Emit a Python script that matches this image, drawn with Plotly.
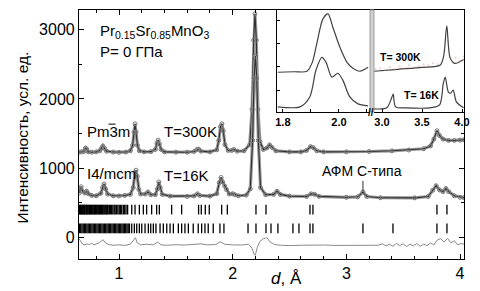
import plotly.graph_objects as go

# ---------------- main profiles (d, intensity) ----------------
PROFILE_300K = [
    (0.648, 1230), (0.67, 1235), (0.69, 1240), (0.705, 1290), (0.715, 1275), (0.73, 1235),
    (0.76, 1230), (0.80, 1235), (0.83, 1250), (0.845, 1285), (0.858, 1320), (0.872, 1285),
    (0.89, 1245), (0.95, 1232), (1.00, 1228), (1.06, 1232), (1.10, 1250), (1.12, 1330),
    (1.132, 1520), (1.141, 1640), (1.150, 1520), (1.162, 1330), (1.18, 1250), (1.22, 1235),
    (1.28, 1238), (1.32, 1270), (1.334, 1360), (1.344, 1405), (1.355, 1350), (1.37, 1270),
    (1.40, 1235), (1.50, 1230), (1.60, 1230), (1.66, 1240), (1.685, 1270), (1.70, 1275),
    (1.72, 1245), (1.80, 1235), (1.86, 1265), (1.878, 1400), (1.893, 1600), (1.905, 1640),
    (1.917, 1540), (1.932, 1340), (1.96, 1255), (1.99, 1255), (2.01, 1270), (2.04, 1245),
    (2.10, 1250), (2.15, 1340), (2.17, 1850), (2.184, 2850), (2.196, 3230), (2.208, 2850),
    (2.222, 1850), (2.24, 1380), (2.27, 1270), (2.30, 1290), (2.325, 1335), (2.345, 1300),
    (2.38, 1250), (2.5, 1235), (2.6, 1235), (2.65, 1255), (2.685, 1310), (2.71, 1295),
    (2.74, 1250), (2.8, 1235), (3.0, 1235), (3.2, 1240), (3.4, 1250), (3.55, 1262),
    (3.68, 1280), (3.74, 1320), (3.77, 1420), (3.797, 1540), (3.82, 1470), (3.85, 1420),
    (3.9, 1400), (3.95, 1400), (4.0, 1405), (4.035, 1410),
]

PROFILE_16K = [
    (0.648, 640), (0.658, 700), (0.667, 730), (0.68, 665), (0.70, 640), (0.715, 665),
    (0.73, 630), (0.76, 605), (0.80, 600), (0.84, 635), (0.856, 720), (0.868, 770),
    (0.882, 700), (0.90, 625), (0.95, 600), (1.00, 598), (1.05, 605), (1.10, 620),
    (1.125, 720), (1.140, 930), (1.150, 970), (1.160, 880), (1.175, 690), (1.19, 625),
    (1.23, 625), (1.255, 655), (1.28, 615), (1.32, 615), (1.338, 700), (1.350, 800),
    (1.362, 720), (1.38, 620), (1.45, 595), (1.60, 590), (1.66, 598), (1.69, 628),
    (1.71, 605), (1.80, 595), (1.86, 630), (1.882, 790), (1.898, 865), (1.912, 800),
    (1.930, 740), (1.945, 690), (1.97, 625), (2.00, 630), (2.02, 615), (2.05, 600),
    (2.12, 610), (2.155, 700), (2.175, 1400), (2.188, 2300), (2.200, 2620), (2.212, 2300),
    (2.226, 1400), (2.245, 720), (2.29, 615), (2.36, 620), (2.39, 665), (2.42, 620),
    (2.5, 595), (2.65, 590), (2.69, 628), (2.72, 622), (2.76, 592), (3.0, 578),
    (3.10, 585), (3.146, 655), (3.18, 590), (3.3, 572), (3.6, 570), (3.72, 590),
    (3.76, 680), (3.79, 745), (3.82, 685), (3.85, 660), (3.876, 705), (3.90, 660),
    (3.95, 600), (4.0, 578), (4.035, 572),
]

DIFFERENCE = [
    (0.648, -20), (0.66, -50), (0.68, -100), (0.70, -110), (0.72, -95), (0.74, -105),
    (0.76, -85), (0.78, -110), (0.80, -100), (0.83, -75), (0.86, -35), (0.88, -80),
    (0.91, -105), (0.95, -115), (1.00, -110), (1.05, -118), (1.10, -100), (1.13, -40),
    (1.145, -5), (1.16, -80), (1.19, -110), (1.24, -100), (1.30, -110), (1.34, -70),
    (1.37, -110), (1.42, -115), (1.50, -108), (1.58, -112), (1.66, -105), (1.72, -95),
    (1.78, -110), (1.85, -105), (1.89, -65), (1.93, -100), (2.00, -110), (2.08, -112),
    (2.14, -100), (2.17, -160), (2.19, -250), (2.20, -260), (2.215, -150), (2.24, -60),
    (2.27, -20), (2.30, -5), (2.33, -70), (2.37, -105), (2.42, -115), (2.50, -120),
    (2.60, -115), (2.70, -110), (2.80, -112), (2.90, -118), (3.00, -115), (3.10, -110),
    (3.20, -112), (3.28, -115), (3.32, -95), (3.35, -125), (3.38, -100), (3.41, -130),
    (3.44, -90), (3.47, -120), (3.50, -95), (3.53, -135), (3.56, -100), (3.59, -125),
    (3.62, -90), (3.65, -130), (3.68, -100), (3.71, -120), (3.74, -85), (3.77, -110),
    (3.80, -40), (3.83, -20), (3.86, -70), (3.89, -15), (3.92, -80), (3.95, -50),
    (3.98, -110), (4.01, -90), (4.035, -100),
]

# reflection tick positions (d, Å)
TICKS_ROW1 = [
    0.652, 0.659, 0.664, 0.671, 0.676, 0.683, 0.690, 0.694, 0.701, 0.709, 0.716, 0.720,
    0.728, 0.735, 0.741, 0.748, 0.757, 0.763, 0.770, 0.778, 0.786, 0.792, 0.800, 0.808,
    0.815, 0.822, 0.830, 0.838, 0.846, 0.853, 0.861, 0.870, 0.879, 0.888, 0.897, 0.904,
    0.915, 0.926, 0.935, 0.946, 0.957, 0.966, 0.978, 0.990, 1.002, 1.013, 1.024, 1.038,
    1.050, 1.062, 1.076,
    1.112, 1.141, 1.179, 1.214, 1.243, 1.287, 1.331, 1.355, 1.463, 1.551, 1.700, 1.724,
    1.759, 1.794, 1.903, 1.953, 2.205, 2.293, 2.680, 2.706, 3.797, 3.885,
]
TICKS_ROW2 = [
    0.652, 0.663, 0.674, 0.685, 0.696, 0.707, 0.718, 0.729, 0.740, 0.751, 0.762, 0.773,
    0.784, 0.795, 0.806, 0.817, 0.828, 0.839, 0.850, 0.861, 0.872, 0.883, 0.894, 0.905,
    0.916, 0.927, 0.938, 0.949, 0.960, 0.971, 0.982, 0.993, 1.004, 1.015, 1.026, 1.037,
    1.048, 1.059, 1.070, 1.081, 1.092,
    1.112, 1.135, 1.156, 1.179, 1.200, 1.229, 1.258, 1.279, 1.302, 1.325, 1.361, 1.390,
    1.420, 1.449, 1.478, 1.522, 1.551, 1.580, 1.610, 1.653, 1.697, 1.727, 1.756, 1.785,
    1.829, 1.888, 1.923, 2.135, 2.205, 2.293, 2.337, 2.398, 2.530, 2.583, 2.680, 2.706,
    3.146, 3.410, 3.797, 3.885,
]
ROW1_RANGE = (330, 470)
ROW2_RANGE = (58, 200)
AFM_PEAK_D = 3.146
AFM_MARK_RANGE = (670, 815)

# ---------------- inset data ----------------
INSET_LEFT_300K = [(1.782, 40), (1.84, 40.5), (1.886, 41), (1.905, 50), (1.921, 69), (1.943, 94),
                   (1.961, 99), (1.979, 85), (2.004, 65), (2.029, 50), (2.05, 44), (2.075, 41), (2.104, 45)]
INSET_LEFT_16K = [(1.782, 5), (1.861, 5), (1.896, 15), (1.918, 42), (1.939, 55), (1.954, 50),
                  (1.975, 35), (1.996, 39), (2.014, 32), (2.039, 15), (2.068, 8), (2.104, 6)]
INSET_RIGHT_300K = [(2.9, 41), (3.2, 43), (3.5, 45), (3.725, 47), (3.77, 56), (3.81, 87),
                    (3.85, 55), (3.91, 49), (4.02, 53)]
INSET_RIGHT_16K = [(2.9, 3), (3.06, 4), (3.12, 14), (3.14, 18), (3.17, 5), (3.3, 4), (3.6, 4),
                   (3.72, 7), (3.765, 28), (3.79, 35), (3.83, 20), (3.86, 19), (3.89, 22),
                   (3.93, 10), (4.02, 4)]
INSET_RIGHT_OBS = [(2.92, 43), (2.98, 44), (3.04, 42), (3.10, 45), (3.16, 43), (3.22, 46),
                   (3.28, 44), (3.34, 47), (3.40, 45), (3.46, 46), (3.52, 48), (3.58, 47),
                   (3.64, 49), (3.70, 48), (3.86, 53), (3.92, 55), (3.98, 52), (4.02, 56)]


def unzip(pairs):
    return [p[0] for p in pairs], [p[1] for p in pairs]


def segs(xs, lo, hi):
    X, Y = [], []
    for x in xs:
        X += [x, x, None]
        Y += [lo, hi, None]
    return X, Y


FONT = "Arial, Liberation Sans, sans-serif"
fig = go.Figure()

for prof in (PROFILE_300K, PROFILE_16K):
    dx, iy = unzip(prof)
    fig.add_trace(go.Scatter(x=dx, y=iy, mode="lines", line=dict(color="#9a9a9a", width=3.2),
                             hoverinfo="skip", showlegend=False))
    fig.add_trace(go.Scatter(x=dx, y=iy, mode="lines+markers",
                             line=dict(color="#303030", width=1.1),
                             marker=dict(symbol="circle-open", size=4, color="#7a7a7a", line=dict(width=1)),
                             showlegend=False))

dx, iy = unzip(DIFFERENCE)
fig.add_trace(go.Scatter(x=dx, y=iy, mode="lines", line=dict(color="#8a8a8a", width=1), showlegend=False))

for row, rng in ((TICKS_ROW1, ROW1_RANGE), (TICKS_ROW2, ROW2_RANGE)):
    X, Y = segs(row, *rng)
    fig.add_trace(go.Scatter(x=X, y=Y, mode="lines", line=dict(color="black", width=1.3), showlegend=False))

X, Y = segs([AFM_PEAK_D], *AFM_MARK_RANGE)
fig.add_trace(go.Scatter(x=X, y=Y, mode="lines", line=dict(color="#333", width=1), showlegend=False))

# inset traces
for pairs, xa, ya in ((INSET_LEFT_300K, "x2", "y2"), (INSET_LEFT_16K, "x2", "y2"),
                      (INSET_RIGHT_300K, "x3", "y3"), (INSET_RIGHT_16K, "x3", "y3")):
    dx, iy = unzip(pairs)
    fig.add_trace(go.Scatter(x=dx, y=iy, xaxis=xa, yaxis=ya, mode="lines",
                             line=dict(color="#404040", width=1.2, shape="spline", smoothing=0.8),
                             showlegend=False))
dx, iy = unzip(INSET_RIGHT_OBS)
fig.add_trace(go.Scatter(x=dx, y=iy, xaxis="x3", yaxis="y3", mode="markers",
                         marker=dict(color="rgba(215,140,140,0.45)", size=2), showlegend=False))

W, H = 480, 291
L, R, T, B = 79, 16, 9, 30
pw, ph = W - L - R, H - T - B


def px(xp):
    return (xp - L) / pw


def py(yp):
    return (H - B - yp) / ph


axis_common = dict(showline=True, linecolor="black", linewidth=1.2, ticks="inside",
                   showgrid=False, zeroline=False, tickcolor="black")

fig.update_layout(
    width=W, height=H, margin=dict(l=L, r=R, t=T, b=B),
    paper_bgcolor="white", plot_bgcolor="white",
    font=dict(family=FONT, color="black"),
    xaxis=dict(domain=[0, 1], range=[0.648, 4.035], tickmode="linear", tick0=0, dtick=1,
               ticklen=5, mirror="ticks", tickfont=dict(size=16),
               minor=dict(tick0=0, dtick=0.2, ticks="inside", ticklen=3, tickcolor="black"),
               **axis_common),
    yaxis=dict(domain=[0, 1], range=[-314, 3286], tickmode="linear", tick0=0, dtick=1000,
               ticklen=5, mirror="ticks", tickfont=dict(size=16),
               minor=dict(tick0=0, dtick=500, ticks="inside", ticklen=3, tickcolor="black"),
               **axis_common),
    xaxis2=dict(domain=[px(277), px(370)], anchor="y2", range=[1.779, 2.111],
                tickvals=[1.8, 2.0], ticktext=["<b>1.8</b>", "<b>2.0</b>"],
                ticklen=3, mirror=True, tickfont=dict(size=11),
                minor=dict(tickvals=[1.9, 2.1], ticks="inside", ticklen=3, tickcolor="black"),
                **axis_common),
    yaxis2=dict(domain=[py(112), 1], anchor="x2", range=[0, 103],
                tickvals=[22, 45.5, 69, 92.5], showticklabels=False, ticklen=3, **axis_common),
    xaxis3=dict(domain=[px(374), 1], anchor="y3", range=[2.9, 4.025],
                tickvals=[3.0, 3.5, 4.0], ticktext=["<b>3.0</b>", "<b>3.5</b>", "<b>4.0</b>"],
                ticklen=3, mirror=True, tickfont=dict(size=11), **axis_common),
    yaxis3=dict(domain=[py(112), 1], anchor="x3", range=[0, 103], side="right",
                showticklabels=False, tickvals=[], **axis_common),
)

fig.add_shape(type="rect", xref="paper", yref="paper", x0=px(370), x1=px(374), y0=py(112), y1=1,
              fillcolor="#d0d0d0", line=dict(color="#a0a0a0", width=1))
# overbar of the "3" in Pm-3m
fig.add_shape(type="line", xref="paper", yref="paper", x0=px(108.5), x1=px(115.5), y0=py(124.5), y1=py(124.5),
              line=dict(color="black", width=1))

ann = [
    dict(x=px(98), y=py(31), text="Pr<sub>0.15</sub>Sr<sub>0.85</sub>MnO<sub>3</sub>", size=15, xa="left"),
    dict(x=px(98), y=py(51), text="P= 0 ГПа", size=15, xa="left"),
    dict(x=px(85), y=py(132), text="Pm3m", size=15, xa="left"),
    dict(x=px(162), y=py(132), text="T=300K", size=15, xa="left"),
    dict(x=px(85), y=py(174), text="I4/mcm", size=15, xa="left"),
    dict(x=px(162), y=py(176), text="T=16K", size=15, xa="left"),
    dict(x=px(362), y=py(172), text="АФМ С-типа", size=14, xa="center"),
    dict(x=px(378), y=py(57), text="<b>T= 300K</b>", size=10.5, xa="left"),
    dict(x=px(402), y=py(95), text="<b>T= 16K</b>", size=10.5, xa="left"),
    dict(x=px(371), y=py(113), text="<b>//</b>", size=10, xa="center"),
    dict(x=px(286), y=py(281), text="<i>d</i>, Å", size=17, xa="center"),
]
for a in ann:
    fig.add_annotation(x=a["x"], y=a["y"], xref="paper", yref="paper", text=a["text"],
                       showarrow=False, xanchor=a["xa"], yanchor="middle",
                       font=dict(size=a["size"], family=FONT, color="black"))

fig.add_annotation(x=px(22), y=py(138), xref="paper", yref="paper", text="Интенсивность, усл. ед.",
                   showarrow=False, textangle=-90, xanchor="center", yanchor="middle",
                   font=dict(size=15.5, family=FONT, color="black"))

fig.write_html("out.html", config={"displayModeBar": False},
               post_script="document.body.style.margin='0';document.body.style.overflow='hidden';")
